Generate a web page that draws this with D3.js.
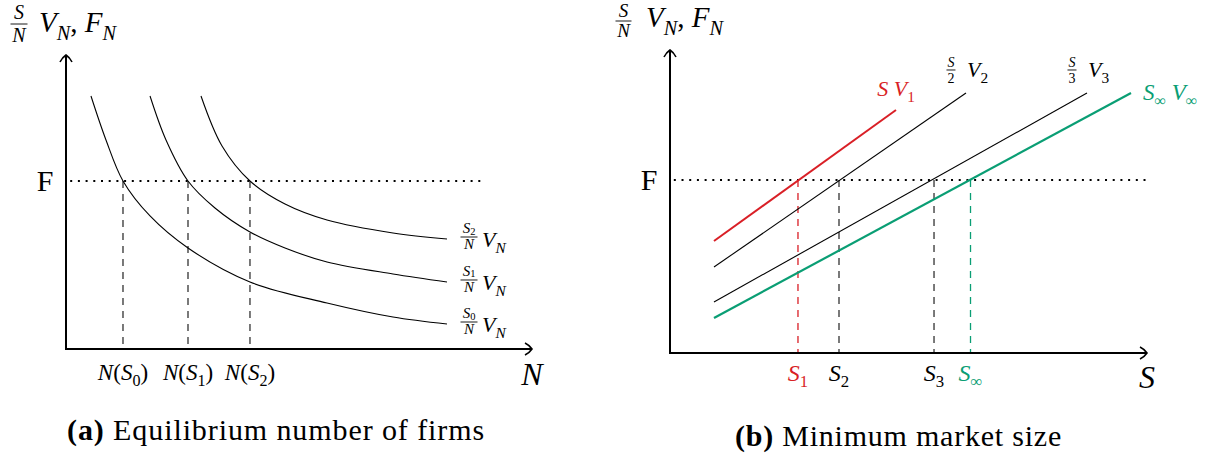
<!DOCTYPE html>
<html><head><meta charset="utf-8">
<script src="https://cdn.jsdelivr.net/npm/d3@7"></script>
<style>body{margin:0;background:#fff} svg{display:block} text{font-family:"Liberation Serif", serif;}</style>
</head><body><svg id="c" width="1222" height="453"></svg>
<script>
// ---------- DATA (arbitrary units) ----------
// Panel (a): three curves S_i/N * V_N against N
const curveIds = ["0", "1", "2"];
const nS0 = [0.536, 0.858, 1.223, 1.803, 2.618, 3.948, 5.601, 7.017, 8.176];
const vS0 = [8.605, 7.109, 5.714, 4.524, 3.435, 2.279, 1.565, 1.088, 0.850];
const nS1 = [1.803, 2.146, 2.618, 3.197, 3.948, 4.700, 5.601, 7.017, 8.176];
const vS1 = [8.605, 7.109, 5.714, 4.796, 3.980, 3.435, 2.959, 2.551, 2.279];
const nS2 = [2.897, 3.348, 3.948, 4.700, 5.601, 7.017, 8.176];
const vS2 = [8.605, 6.905, 5.714, 4.932, 4.388, 3.946, 3.741];
const fLevelA = 5.714;
const fRangeA = [0.09, 9.01];
const crossA = [1.223, 2.618, 3.948];           // N(S0), N(S1), N(S2)

// Panel (b): four straight lines S/k * V_k against S
const lineIds = ["1", "2", "3", "∞"];
const startS = [0.922, 0.922, 0.922, 0.922];
const startV = [3.696, 2.838, 1.683, 1.155];
const endS   = [4.738, 6.205, 8.742, 9.665];
const endV   = [8.020, 8.581, 8.581, 8.581];
const crossB = [2.683, 3.543, 5.535, 6.300];     // S1, S2, S3, S_inf
const fLevelB = 5.710;
const fRangeB = [0.08, 10.06];

// ---------- SETUP ----------
const RED = "#d91f26", GREEN = "#0a9e74";
const lineColors = [RED, "#000", "#000", GREEN];
const lineWidths = [2, 1.1, 1.1, 2.2];
const svg = d3.select("#c");

const xA = d3.scaleLinear().domain([0, 10]).range([66, 532]);
const yA = d3.scaleLinear().domain([0, 10]).range([349, 55]);
const xB = d3.scaleLinear().domain([0, 10]).range([670, 1147]);
const yB = d3.scaleLinear().domain([0, 10]).range([353, 50]);

function mathText(g, x, y, parts, size, anchor, color, subShift) {
  const ss = subShift === undefined ? 0.26 : subShift;
  const t = g.append("text").attr("x", x).attr("y", y)
    .style("font-size", size + "px")
    .attr("fill", color || "#000").attr("text-anchor", anchor || "start");
  let shifted = 0;
  parts.forEach(p => {
    const s = t.append("tspan").text(p.t);
    if (p.i) s.style("font-style", "italic");
    if (p.b) s.style("font-weight", "bold");
    const want = p.sub ? size * ss : 0;
    if (want !== shifted) { s.attr("dy", want - shifted); shifted = want; }
    s.style("font-size", (p.sub ? size * 0.7 : size) + "px");
    if (p.dx) s.attr("dx", p.dx);
  });
  return t;
}
function frac(g, cx, barY, num, den, size, color, w, numOff, denOff) {
  mathText(g, cx, barY - numOff, num, size, "middle", color, 0.1);
  mathText(g, cx, barY + denOff, den, size, "middle", color);
  g.append("line").attr("x1", cx - w / 2).attr("x2", cx + w / 2)
    .attr("y1", barY).attr("y2", barY).attr("stroke", color || "#000").attr("stroke-width", 0.9);
}
function arrowUp(g, x, y) {
  g.append("path").attr("d", `M${x-6},${y+7} C${x-4},${y+3} ${x-1.5},${y+1} ${x},${y} C${x+1.5},${y+1} ${x+4},${y+3} ${x+6},${y+7}`)
    .attr("fill", "none").attr("stroke", "#000").attr("stroke-width", 1.6);
}
function arrowRight(g, x, y) {
  g.append("path").attr("d", `M${x-7},${y-6} C${x-3},${y-4} ${x-1},${y-1.5} ${x},${y} C${x-1},${y+1.5} ${x-3},${y+4} ${x-7},${y+6}`)
    .attr("fill", "none").attr("stroke", "#000").attr("stroke-width", 1.6);
}

// ---------- PANEL (a) ----------
const gA = svg.append("g");
const lineA = d3.line().x(d => xA(d[0])).y(d => yA(d[1])).curve(d3.curveCatmullRom.alpha(0.5));
const curvesA = [d3.zip(nS0, vS0), d3.zip(nS1, vS1), d3.zip(nS2, vS2)];
gA.append("line").attr("x1", xA(fRangeA[0])).attr("x2", xA(fRangeA[1]))
  .attr("y1", yA(fLevelA)).attr("y2", yA(fLevelA))
  .attr("stroke", "#000").attr("stroke-width", 2).attr("stroke-dasharray", "2,5.7");
gA.selectAll("line.dv").data(crossA).join("line").attr("class", "dv")
  .attr("x1", d => xA(d)).attr("x2", d => xA(d))
  .attr("y1", yA(fLevelA)).attr("y2", yA(0))
  .attr("stroke", "#333").attr("stroke-width", 1.3).attr("stroke-dasharray", "7,6");
gA.selectAll("path.cv").data(curvesA).join("path").attr("class", "cv")
  .attr("d", lineA).attr("fill", "none").attr("stroke", "#000").attr("stroke-width", 1.1);
gA.append("line").attr("x1", xA(0)).attr("x2", xA(10)).attr("y1", yA(0)).attr("y2", yA(0)).attr("stroke", "#000").attr("stroke-width", 2);
gA.append("line").attr("x1", xA(0)).attr("x2", xA(0)).attr("y1", yA(0) + 1).attr("y2", yA(10)).attr("stroke", "#000").attr("stroke-width", 2);
arrowUp(gA, xA(0), yA(10));
arrowRight(gA, xA(10), yA(0));
gA.append("text").attr("x", 45).attr("y", yA(fLevelA) + 10).attr("text-anchor", "middle")
  .style("font-size", "30px").text("F");
mathText(gA, xA(10), 385, [{t: "N", i: 1}], 32, "middle");
frac(gA, 19, 24, [{t: "S", i: 1}], [{t: "N", i: 1}], 20, "#000", 17, 5, 18);
mathText(gA, 39, 32, [{t: "V", i: 1}, {t: "N", i: 1, sub: 1}, {t: ", "}, {t: "F", i: 1}, {t: "N", i: 1, sub: 1}], 29, "start");
crossA.forEach((c, i) => {
  mathText(gA, xA(c), 380, [{t: "N", i: 1}, {t: "("}, {t: "S", i: 1}, {t: curveIds[i], sub: 1}, {t: ")"}], 23, "middle");
});
curvesA.forEach((c, i) => {
  const last = c[c.length - 1];
  const by = yA(last[1]) - 2;
  frac(gA, 469, by, [{t: "S", i: 1}, {t: curveIds[i], sub: 1}], [{t: "N", i: 1}], 15, "#000", 17, 4, 12);
  mathText(gA, 482, by + 10, [{t: "V", i: 1}, {t: "N", i: 1, sub: 1}], 22, "start");
});

// ---------- PANEL (b) ----------
const gB = svg.append("g");
gB.append("line").attr("x1", xB(fRangeB[0])).attr("x2", xB(fRangeB[1]))
  .attr("y1", yB(fLevelB)).attr("y2", yB(fLevelB))
  .attr("stroke", "#000").attr("stroke-width", 2).attr("stroke-dasharray", "2,5.7");
gB.selectAll("line.dv").data(crossB).join("line").attr("class", "dv")
  .attr("x1", d => xB(d)).attr("x2", d => xB(d))
  .attr("y1", yB(fLevelB)).attr("y2", yB(0))
  .attr("stroke", (d, i) => i === 0 ? RED : i === 3 ? GREEN : "#333")
  .attr("stroke-width", 1.3).attr("stroke-dasharray", "7,6");
gB.selectAll("line.ln").data(lineIds).join("line").attr("class", "ln")
  .attr("x1", (d, i) => xB(startS[i])).attr("y1", (d, i) => yB(startV[i]))
  .attr("x2", (d, i) => xB(endS[i])).attr("y2", (d, i) => yB(endV[i]))
  .attr("stroke", (d, i) => lineColors[i]).attr("stroke-width", (d, i) => lineWidths[i]);
gB.append("line").attr("x1", xB(0)).attr("x2", xB(10)).attr("y1", yB(0)).attr("y2", yB(0)).attr("stroke", "#000").attr("stroke-width", 2);
gB.append("line").attr("x1", xB(0)).attr("x2", xB(0)).attr("y1", yB(0) + 1).attr("y2", yB(10)).attr("stroke", "#000").attr("stroke-width", 2);
arrowUp(gB, xB(0), yB(10));
arrowRight(gB, xB(10), yB(0));
gB.append("text").attr("x", 649).attr("y", yB(fLevelB) + 10).attr("text-anchor", "middle")
  .style("font-size", "30px").text("F");
mathText(gB, xB(10), 388, [{t: "S", i: 1}], 32, "middle");
frac(gB, 623.5, 21, [{t: "S", i: 1}], [{t: "N", i: 1}], 19, "#000", 16, 4, 16);
mathText(gB, 646, 27, [{t: "V", i: 1}, {t: "N", i: 1, sub: 1}, {t: ", "}, {t: "F", i: 1}, {t: "N", i: 1, sub: 1}], 29, "start");
crossB.forEach((c, i) => {
  mathText(gB, xB(c), 381, [{t: "S", i: 1}, {t: lineIds[i], sub: 1}], 24, "middle", i === 0 ? RED : i === 3 ? GREEN : "#000");
});
mathText(gB, xB(endS[0]), yB(endV[0]) - 14, [{t: "S", i: 1}, {t: "  "}, {t: "V", i: 1}, {t: lineIds[0], sub: 1}], 22, "middle", RED);
[1, 2].forEach(i => {
  const ex = xB(endS[i]), ey = yB(endV[i]);
  frac(gB, ex - 15, ey - 23, [{t: "S", i: 1}], [{t: lineIds[i]}], 14, "#000", 9, 3, 13);
  mathText(gB, ex + 1, ey - 16, [{t: "V", i: 1}, {t: lineIds[i], sub: 1}], 22, "start");
});
mathText(gB, xB(endS[3]) + 12, yB(endV[3]) + 7, [{t: "S", i: 1}, {t: lineIds[3], sub: 1}, {t: "  "}, {t: "V", i: 1}, {t: lineIds[3], sub: 1}], 23, "start", GREEN);

// ---------- CAPTIONS ----------
function caption(x, y, bold, rest, target) {
  const t = mathText(svg, x, y, [{t: bold, b: 1}, {t: rest}], 30, "start");
  const n = (bold + rest).length;
  const w = t.node().getComputedTextLength();
  t.attr("letter-spacing", (target - w) / n);
}
caption(67, 440, "(a)", " Equilibrium number of firms", 418);
caption(735, 446, "(b)", " Minimum market size", 327);
</script></body></html>
